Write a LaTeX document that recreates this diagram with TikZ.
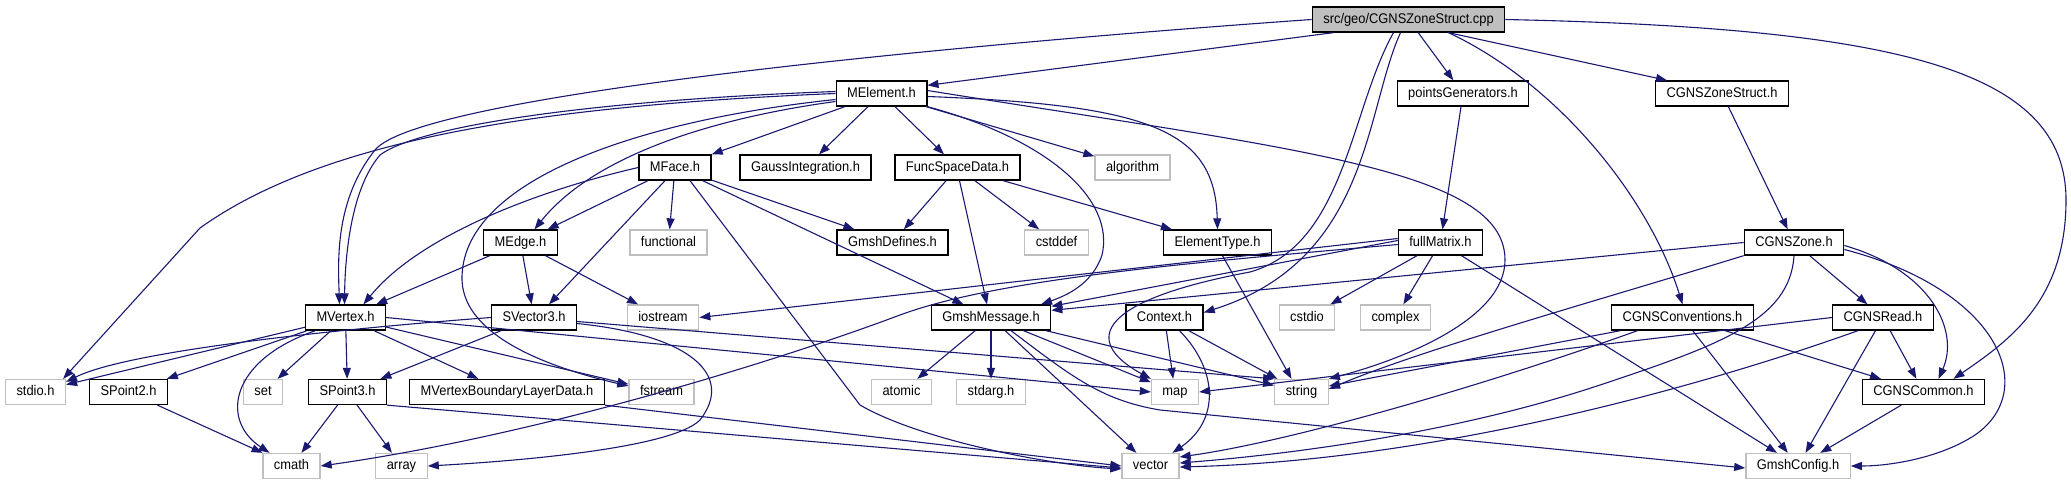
\documentclass[tikz,border=0pt]{standalone}
\usepackage{fontspec}
\setmainfont{Liberation Sans}[FakeStretch=0.92]
\usetikzlibrary{arrows.meta}
\definecolor{azulaseta}{HTML}{191970}
\definecolor{cinzasis}{HTML}{BFBFBF}

\begin{document}
\begin{tikzpicture}[
    x=1pt, y=-1pt,
    arquivo/.style={
        rectangle, draw=black, line width=1.3pt, fill=white,
        minimum height=25pt, inner xsep=11pt, inner ysep=0pt,
        text height=10pt, text depth=3pt,
        font=\fontsize{14}{16}\selectfont
    },
    sistema/.style={arquivo, draw=cinzasis},
    raiz/.style={arquivo, fill=cinzasis},
    inclui/.style={-{Triangle[length=11pt,width=8pt]}, line width=1.1pt, draw=azulaseta}
]
\useasboundingbox (0,0) rectangle (2071,485);

% Arquivos
\node[raiz] (cpp) at (1408.5,19.5) {src/geo/CGNSZoneStruct.cpp};

\node[arquivo] (melem) at (881.5,93.5) {MElement.h};
\node[arquivo] (pgen) at (1463,93.5) {pointsGenerators.h};
\node[arquivo] (zstruct) at (1722,93.5) {CGNSZoneStruct.h};

\node[arquivo] (mface) at (675,167.5) {MFace.h};
\node[arquivo] (gauss) at (805.5,167.5) {GaussIntegration.h};
\node[arquivo] (fsdata) at (957.5,167.5) {FuncSpaceData.h};
\node[sistema] (algo) at (1132.5,167.5) {algorithm};

\node[arquivo] (medge) at (520.5,242.5) {MEdge.h};
\node[sistema] (func) at (668.5,242.5) {functional};
\node[arquivo] (gdef) at (892.5,242.5) {GmshDefines.h};
\node[sistema] (cstddef) at (1056.5,242.5) {cstddef};
\node[arquivo] (etype) at (1217.5,242.5) {ElementType.h};
\node[arquivo] (fmat) at (1440.5,242.5) {fullMatrix.h};
\node[arquivo] (czone) at (1794,242.5) {CGNSZone.h};

\node[arquivo] (mvert) at (345.5,317.5) {MVertex.h};
\node[arquivo] (svec) at (534,317.5) {SVector3.h};
\node[sistema] (iostr) at (663,317.5) {iostream};
\node[arquivo] (gmsg) at (991,317.5) {GmshMessage.h};
\node[arquivo] (ctx) at (1164.5,317.5) {Context.h};
\node[sistema] (cstdio) at (1307,317.5) {cstdio};
\node[sistema] (cplx) at (1395.5,317.5) {complex};
\node[arquivo] (cconv) at (1682.5,317.5) {CGNSConventions.h};
\node[arquivo] (cread) at (1883,317.5) {CGNSRead.h};

\node[sistema] (stdio) at (35.5,392) {stdio.h};
\node[arquivo] (sp2) at (128.5,392) {SPoint2.h};
\node[sistema] (stlset) at (263,392) {set};
\node[arquivo] (sp3) at (347.5,392) {SPoint3.h};
\node[arquivo] (mvbl) at (507,392) {MVertexBoundaryLayerData.h};
\node[sistema] (fstr) at (661.5,392) {fstream};
\node[sistema] (atomic) at (901.5,392) {atomic};
\node[sistema] (stdarg) at (991,392) {stdarg.h};
\node[sistema] (stlmap) at (1175,392) {map};
\node[sistema] (stlstr) at (1301.5,392) {string};
\node[arquivo] (ccommon) at (1923.5,392) {CGNSCommon.h};

\node[sistema] (cmath) at (291.5,466) {cmath};
\node[sistema] (stlarr) at (401.5,466) {array};
\node[sistema] (stlvec) at (1150.5,466) {vector};
\node[sistema] (gconf) at (1798,466) {GmshConfig.h};

% Inclusões
\draw[inclui] ([xshift=-75pt]cpp.south) -- ([yshift=-5pt]melem.north east);
\draw[inclui] (cpp.west) .. controls (950,45) and (420,95) .. (375,150) .. controls (335,200) and (338,260) .. ([xshift=-6pt]mvert.north);
\draw[inclui] (cpp) -- (pgen);
\draw[inclui] ([xshift=40pt]cpp.south) -- ([xshift=-55pt]zstruct.north);
\draw[inclui] (cpp.east) .. controls (1900,28) and (2066,70) .. (2066,200) .. controls (2066,300) and (2010,340) .. ([xshift=30pt]ccommon.north);
\draw[inclui] ([xshift=40pt]cpp.south) .. controls (1560,85) and (1650,200) .. (cconv.north);
\draw[inclui] ([xshift=-8pt]cpp.south) .. controls (1365,110) and (1370,260) .. ([yshift=5pt]ctx.east);
\draw[inclui] ([xshift=-15pt]cpp.south) .. controls (1350,110) and (1345,245) .. (1250,272) .. controls (1100,300) and (1080,340) .. (stlmap.north west);
\draw[inclui] (pgen) -- (fmat);
\draw[inclui] (zstruct) -- (czone);

\draw[inclui] (melem) -- (mface);
\draw[inclui] (melem) -- (gauss);
\draw[inclui] (melem) -- (fsdata);
\draw[inclui] (melem) -- (algo);
\draw[inclui] ([yshift=-3pt]melem.east) .. controls (1150,105) and (1215,130) .. (etype.north);
\draw[inclui] (melem.south east) .. controls (1050,140) and (1115,200) .. (1102,255) .. controls (1092,285) and (1065,296) .. ([xshift=50pt]gmsg.north);
\draw[inclui] ([yshift=3pt]melem.east) .. controls (1300,150) and (1505,170) .. (1505,260) .. controls (1505,320) and (1400,360) .. (stlstr.north east);
\draw[inclui] ([yshift=-8pt]melem.west) .. controls (700,120) and (590,160) .. ([xshift=14pt]medge.north);
\draw[inclui] ([yshift=2pt]melem.west) .. controls (600,100) and (420,125) .. (380,155) .. controls (350,190) and (345,260) .. ([xshift=-1pt]mvert.north);
\draw[inclui] (melem.west) .. controls (560,105) and (330,135) .. (200,228) -- ([xshift=-3pt]stdio.north east);
\draw[inclui] ([yshift=-6pt]melem.west) .. controls (640,120) and (460,180) .. (462,280) .. controls (464,340) and (560,370) .. ([yshift=6pt]fstr.west);

\draw[inclui] (mface) -- (medge);
\draw[inclui] (mface.west) .. controls (540,190) and (420,235) .. ([xshift=18pt]mvert.north);
\draw[inclui] ([xshift=-10pt]mface.south) -- ([xshift=15pt]svec.north);
\draw[inclui] (mface) -- (func);
\draw[inclui] (mface) -- (gdef);
\draw[inclui] (mface) -- (gmsg);
\draw[inclui] ([xshift=15pt]mface.south) -- (860,405) .. controls (920,440) and (1050,465) .. ([yshift=-3pt]stlvec.west);

\draw[inclui] (fsdata) -- (gdef);
\draw[inclui] ([xshift=2pt]fsdata.south) -- ([xshift=-4pt]gmsg.north);
\draw[inclui] (fsdata) -- (cstddef);
\draw[inclui] (fsdata) -- (etype);

\draw[inclui] (medge) -- (mvert);
\draw[inclui] (medge) -- (svec);
\draw[inclui] (medge) -- (iostr);

\draw[inclui] (mvert) -- (stdio);
\draw[inclui] (mvert) -- (sp2);
\draw[inclui] ([xshift=-30pt]mvert.south) .. controls (230,360) and (220,420) .. ([xshift=-22pt]cmath.north);
\draw[inclui] (mvert) -- (stlset);
\draw[inclui] (mvert) -- (sp3);
\draw[inclui] (mvert) -- (mvbl);
\draw[inclui] (mvert) -- (fstr);
\draw[inclui] (mvert.east) -- (stlmap.west);

\draw[inclui] (svec.west) .. controls (350,328) and (130,350) .. ([yshift=-3pt]stdio.north east);
\draw[inclui] ([yshift=-4pt]svec.east) -- (stlstr.north west);
\draw[inclui] (svec) -- (sp3);
\draw[inclui] ([yshift=-6pt]svec.east) .. controls (690,335) and (735,375) .. (700,420) .. controls (670,450) and (500,462) .. (stlarr.east);

\draw[inclui] (sp2) -- (cmath);
\draw[inclui] (sp3) -- (cmath);
\draw[inclui] (sp3) -- (stlarr);
\draw[inclui] (sp3.south east) -- ([yshift=-2pt]stlvec.west);
\draw[inclui] (mvbl.south east) -- (stlvec.west);

\draw[inclui] (gmsg) -- (atomic);
\draw[inclui] (gmsg) -- (stdarg);
\draw[inclui] (gmsg) -- (stlmap);
\draw[inclui] (gmsg) -- (stlstr);
\draw[inclui] (gmsg) -- (stlvec);
\draw[inclui] ([xshift=20pt]gmsg.south) .. controls (1070,375) and (1100,400) .. (1160,410) -- ([yshift=-2pt]gconf.west);

\draw[inclui] (ctx) -- (stlmap);
\draw[inclui] (ctx) -- (stlstr);
\draw[inclui] ([xshift=15pt]ctx.south) .. controls (1218,370) and (1220,420) .. ([xshift=22pt]stlvec.north);
\draw[inclui] ([xshift=5pt]etype.south) -- ([xshift=-10pt]stlstr.north);

\draw[inclui] ([yshift=4pt]fmat.west) -- (iostr.east);
\draw[inclui] ([yshift=2pt]fmat.west) -- ([yshift=-2pt]gmsg.north east);
\draw[inclui] ([yshift=-2pt]fmat.west) .. controls (1200,262) and (1000,278) .. (900,315) .. controls (780,360) and (540,435) .. (cmath.east);
\draw[inclui] (fmat) -- (cstdio);
\draw[inclui] (fmat) -- (cplx);
\draw[inclui] (fmat) -- (gconf);

\draw[inclui] (czone.west) -- ([yshift=-6pt]gmsg.north east);
\draw[inclui] (czone.south west) .. controls (1600,300) and (1420,350) .. ([yshift=3pt]stlstr.east);
\draw[inclui] (czone.south) .. controls (1790,320) and (1720,345) .. (1600,385) .. controls (1450,435) and (1280,455) .. ([yshift=3pt]stlvec.east);
\draw[inclui] (czone) -- (cread);
\draw[inclui] ([yshift=-3pt]czone.east) .. controls (1930,270) and (1960,330) .. ([xshift=15pt]ccommon.north);
\draw[inclui] ([yshift=-7pt]czone.east) .. controls (2000,290) and (2040,390) .. (1975,435) .. controls (1940,458) and (1890,466) .. (gconf.east);

\draw[inclui] ([xshift=-62pt]cconv.south) -- ([yshift=6pt]stlstr.east);
\draw[inclui] ([xshift=-45pt]cconv.south) .. controls (1500,380) and (1300,440) .. ([yshift=9pt]stlvec.east);
\draw[inclui] (cconv) -- (gconf);
\draw[inclui] (cconv) -- (ccommon);

\draw[inclui] (cread.west) -- (stlmap.east);
\draw[inclui] (cread) -- (ccommon);
\draw[inclui] (cread) -- (gconf);
\draw[inclui] ([xshift=-25pt]cread.south) .. controls (1720,380) and (1450,460) .. ([yshift=-1pt]stlvec.east);
\draw[inclui] (ccommon) -- (gconf);

\end{tikzpicture}
\end{document}
